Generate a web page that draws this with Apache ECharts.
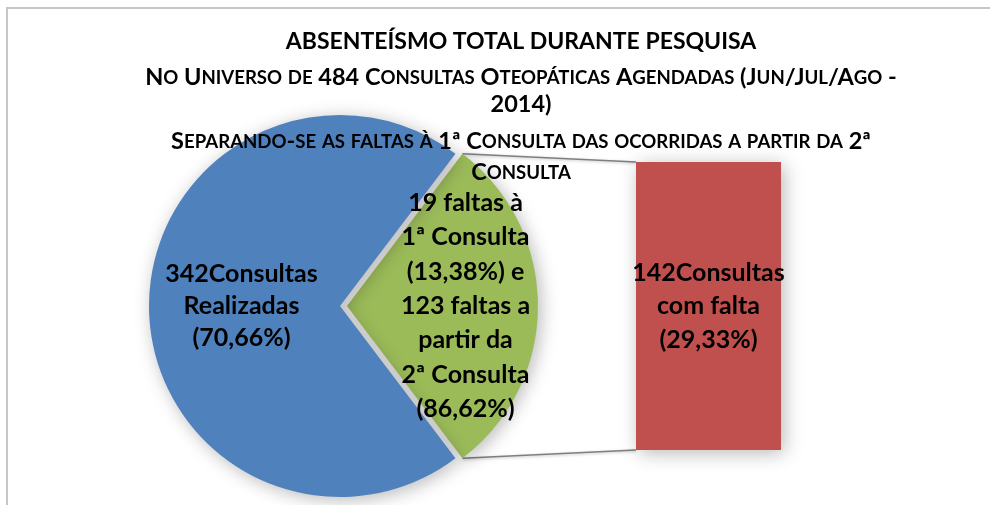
<!DOCTYPE html>
<html>
<head>
<meta charset="utf-8">
<script src="https://cdn.jsdelivr.net/npm/echarts@6/dist/echarts.min.js"></script>
<style>
  html, body { margin: 0; background: #fff; }
  #chart { width: 990px; height: 505px; }
</style>
</head>
<body>
<div id="chart"></div>
<script>
  // dados
  const sliceNames = ['Consultas com falta', 'Consultas Realizadas'];
  const sliceValues = [142, 342];
  const sliceLabels = [
    '19 faltas à\n1ª Consulta\n(13,38%) e\n123 faltas a\npartir da\n2ª Consulta\n(86,62%)',
    '342Consultas\nRealizadas\n(70,66%)'
  ];
  const barNames = ['Consultas com falta'];
  const barValues = [142];
  const barLabels = ['142Consultas\ncom falta\n(29,33%)'];

  const titleText = 'ABSENTEÍSMO TOTAL DURANTE PESQUISA';
  const subText1 = 'No Universo de 484 Consultas Oteopáticas Agendadas (Jun/Jul/Ago -\n2014)';
  const subText2 = 'Separando-se as faltas à 1ª Consulta das ocorridas a partir da 2ª\nConsulta';

  const colors = ['#9BBB59', '#4F81BD'];
  const barColor = '#C0504D';
  const font = 'Lato';

  const pieCenter = [340, 306];
  const pieRadius = 191;
  const pieOffset = 7;
  const barGrid = { left: 636, top: 162, width: 145, height: 288 };
  const titleX = 521;

  // versalete como no Excel
  function smallCaps(str) {
    let out = '', cur = null, buf = '';
    for (const ch of str) {
      const lower = ch !== ch.toUpperCase();
      const st = lower ? 's' : 'c';
      if (st !== cur && buf) { out += '{' + cur + '|' + buf + '}'; buf = ''; }
      cur = st;
      buf += lower ? ch.toUpperCase() : ch;
    }
    if (buf) out += '{' + cur + '|' + buf + '}';
    return out;
  }

  function capsRich(lh) {
    return {
      c: { fontFamily: font, fontWeight: 'bold', fontSize: 23.5, color: '#000', lineHeight: lh },
      s: { fontFamily: font, fontWeight: 'bold', fontSize: 18.6, color: '#000', lineHeight: lh }
    };
  }

  const shadow = {
    shadowBlur: 18,
    shadowColor: 'rgba(0,0,0,0.28)',
    shadowOffsetX: 3,
    shadowOffsetY: 3
  };

  const labelFont = { fontFamily: font, fontWeight: 'bold', fontSize: 25, color: '#000' };

  const chart = echarts.init(document.getElementById('chart'));
  const halfAngle = 180 * sliceValues[0] / (sliceValues[0] + sliceValues[1]);

  chart.setOption({
    animation: false,
    backgroundColor: '#fff',
    title: [{
      text: titleText,
      left: titleX,
      top: 29,
      padding: 0,
      textAlign: 'center',
      textStyle: { fontFamily: font, fontWeight: 'bold', fontSize: 23, color: '#000', lineHeight: 26 }
    }, {
      text: smallCaps(subText1),
      left: titleX,
      top: 64,
      padding: 0,
      textAlign: 'center',
      textStyle: { rich: capsRich(27) }
    }, {
      text: smallCaps(subText2),
      left: titleX,
      top: 126,
      padding: 0,
      textAlign: 'center',
      textStyle: { rich: capsRich(31) }
    }],
    graphic: [{
      id: 'frame',
      type: 'rect',
      z: -10,
      shape: { x: 7, y: 8, width: 1000, height: 600 },
      style: { fill: 'none', stroke: '#c6c6c6', lineWidth: 2 }
    }],
    grid: barGrid,
    xAxis: { type: 'category', data: barNames, show: false },
    yAxis: { type: 'value', min: 0, max: barValues[0], show: false },
    series: [{
      type: 'pie',
      center: pieCenter,
      radius: pieRadius,
      startAngle: halfAngle,
      selectedMode: 'single',
      selectedOffset: pieOffset,
      emphasis: { disabled: true },
      labelLine: { show: false },
      data: sliceNames.map((n, i) => ({
        name: n,
        value: sliceValues[i],
        selected: i === 0,
        itemStyle: Object.assign({ color: colors[i] }, shadow),
        label: Object.assign({
          show: true,
          position: 'inside',
          formatter: sliceLabels[i],
          lineHeight: i === 0 ? 34.3 : 32,
          padding: i === 0 ? [0, 0, 0, 40] : 0
        }, labelFont)
      }))
    }, {
      type: 'bar',
      barWidth: '100%',
      emphasis: { disabled: true },
      itemStyle: Object.assign({ color: barColor }, shadow),
      label: Object.assign({
        show: true,
        position: 'inside',
        formatter: p => barLabels[p.dataIndex],
        lineHeight: 33.5
      }, labelFont),
      data: barValues
    }]
  });

  // linhas de ligacao entre a fatia e a barra
  const a = halfAngle * Math.PI / 180;
  const sx = pieCenter[0] + pieOffset + pieRadius * Math.cos(a);
  const syTop = pieCenter[1] - pieRadius * Math.sin(a);
  const syBot = pieCenter[1] + pieRadius * Math.sin(a);
  const barLeft = chart.convertToPixel({ xAxisIndex: 0 }, barNames[0]) - barGrid.width / 2;
  const barTop = chart.convertToPixel({ yAxisIndex: 0 }, barValues[0]);
  const barBot = chart.convertToPixel({ yAxisIndex: 0 }, 0);
  const lineStyle = { stroke: '#7f7f7f', lineWidth: 1.5, shadowBlur: 3, shadowColor: 'rgba(0,0,0,0.25)', shadowOffsetY: 1 };

  chart.setOption({
    graphic: [{
      id: 'linkTop',
      type: 'line',
      z: 1,
      shape: { x1: sx, y1: syTop, x2: barLeft, y2: barTop },
      style: lineStyle
    }, {
      id: 'linkBot',
      type: 'line',
      z: 1,
      shape: { x1: sx, y1: syBot, x2: barLeft, y2: barBot },
      style: lineStyle
    }]
  });
</script>
</body>
</html>
